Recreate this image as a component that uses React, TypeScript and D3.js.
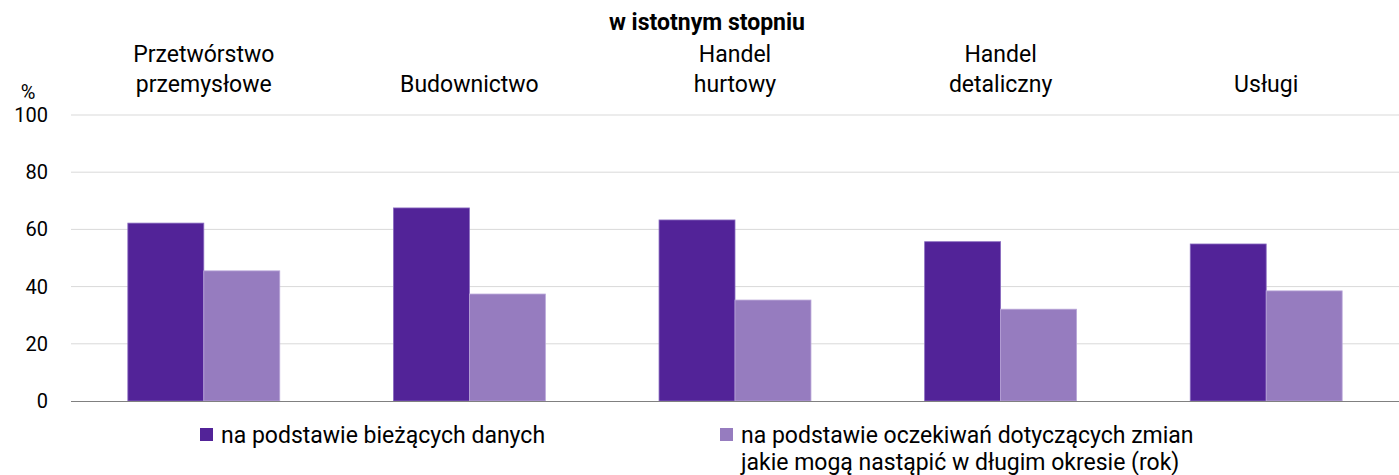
import React, { useEffect, useRef } from 'react';
import * as d3 from 'd3';

const categories = ['Przetwórstwo\nprzemysłowe', 'Budownictwo', 'Handel\nhurtowy', 'Handel\ndetaliczny', 'Usługi'];
const currentData = [62.2, 67.5, 63.3, 55.7, 54.9];
const expectedData = [45.5, 37.4, 35.3, 32.1, 38.5];
const yTicks = [0, 20, 40, 60, 80, 100];
const seriesNames = [
  'na podstawie bieżących danych',
  'na podstawie oczekiwań dotyczących zmian\njakie mogą nastąpić w długim okresie (rok)',
];
const title = 'w istotnym stopniu';

const W = 1399;
const H = 475;
const FONT = 'Roboto, "Noto Sans", sans-serif';
const colors = ['#522398', '#967cbf'];

const App = () => {
  const ref = useRef<SVGSVGElement>(null);

  useEffect(() => {
    const svg = d3.select(ref.current);
    svg.selectAll('*').remove();
    svg.attr('width', W).attr('height', H).style('font-family', FONT);

    const left = 71, right = W, top = 115, bottom = 401;

    const x = d3.scaleBand<number>()
      .domain(d3.range(categories.length))
      .range([left, right]);
    const y = d3.scaleLinear().domain([0, 100]).range([bottom, top]);

    const barW = x.bandwidth() * 0.286;

    // gridlines
    svg.append('g')
      .selectAll('line')
      .data(yTicks.filter(t => t > 0))
      .enter()
      .append('line')
      .attr('x1', left)
      .attr('x2', right)
      .attr('y1', d => y(d))
      .attr('y2', d => y(d))
      .attr('stroke', '#d9d9d9')
      .attr('stroke-width', 1);

    // y tick labels
    svg.append('g')
      .selectAll('text')
      .data(yTicks)
      .enter()
      .append('text')
      .attr('x', 48)
      .attr('y', d => y(d) + 7)
      .attr('text-anchor', 'end')
      .attr('font-size', 20)
      .attr('fill', '#000')
      .text(d => d);

    svg.append('text')
      .attr('x', 28)
      .attr('y', 99)
      .attr('text-anchor', 'middle')
      .attr('font-size', 20)
      .text('%');

    // bars
    const series = [currentData, expectedData];
    series.forEach((vals, si) => {
      svg.append('g')
        .selectAll('rect')
        .data(vals)
        .enter()
        .append('rect')
        .attr('x', (d, i) => x(i)! + x.bandwidth() / 2 - barW + si * barW)
        .attr('y', d => y(d))
        .attr('width', barW)
        .attr('height', d => bottom - y(d))
        .attr('fill', colors[si])
        .attr('stroke', si === 0 ? '#8a6cc0' : '#b9a6d9')
        .attr('stroke-width', 0.8);
    });

    // baseline
    svg.append('line')
      .attr('x1', left)
      .attr('x2', right)
      .attr('y1', bottom + 0.5)
      .attr('y2', bottom + 0.5)
      .attr('stroke', '#808080')
      .attr('stroke-width', 1.2);

    // category labels
    categories.forEach((c, i) => {
      const lines = c.split('\n');
      const t = svg.append('text')
        .attr('x', x(i)! + x.bandwidth() / 2)
        .attr('text-anchor', 'middle')
        .attr('font-size', 23)
        .attr('fill', '#000');
      lines.forEach((l, li) => {
        t.append('tspan')
          .attr('x', x(i)! + x.bandwidth() / 2)
          .attr('y', 92 - (lines.length - 1 - li) * 30)
          .text(l);
      });
    });

    // title
    svg.append('text')
      .attr('x', 707)
      .attr('y', 30)
      .attr('text-anchor', 'middle')
      .attr('font-size', 23)
      .attr('font-weight', 'bold')
      .text(title);

    // legend
    const legendX = [200, 720];
    seriesNames.forEach((name, si) => {
      svg.append('rect')
        .attr('x', legendX[si])
        .attr('y', 428)
        .attr('width', 13)
        .attr('height', 13)
        .attr('fill', colors[si]);
      const t = svg.append('text')
        .attr('font-size', 23)
        .attr('fill', '#000');
      name.split('\n').forEach((l, li) => {
        t.append('tspan')
          .attr('x', legendX[si] + 21)
          .attr('y', 443 + li * 27)
          .text(l);
      });
    });
  }, []);

  return (
    <div style={{ position: 'absolute', left: 0, top: 0 }}>
      <svg ref={ref}></svg>
    </div>
  );
};

export default App;
